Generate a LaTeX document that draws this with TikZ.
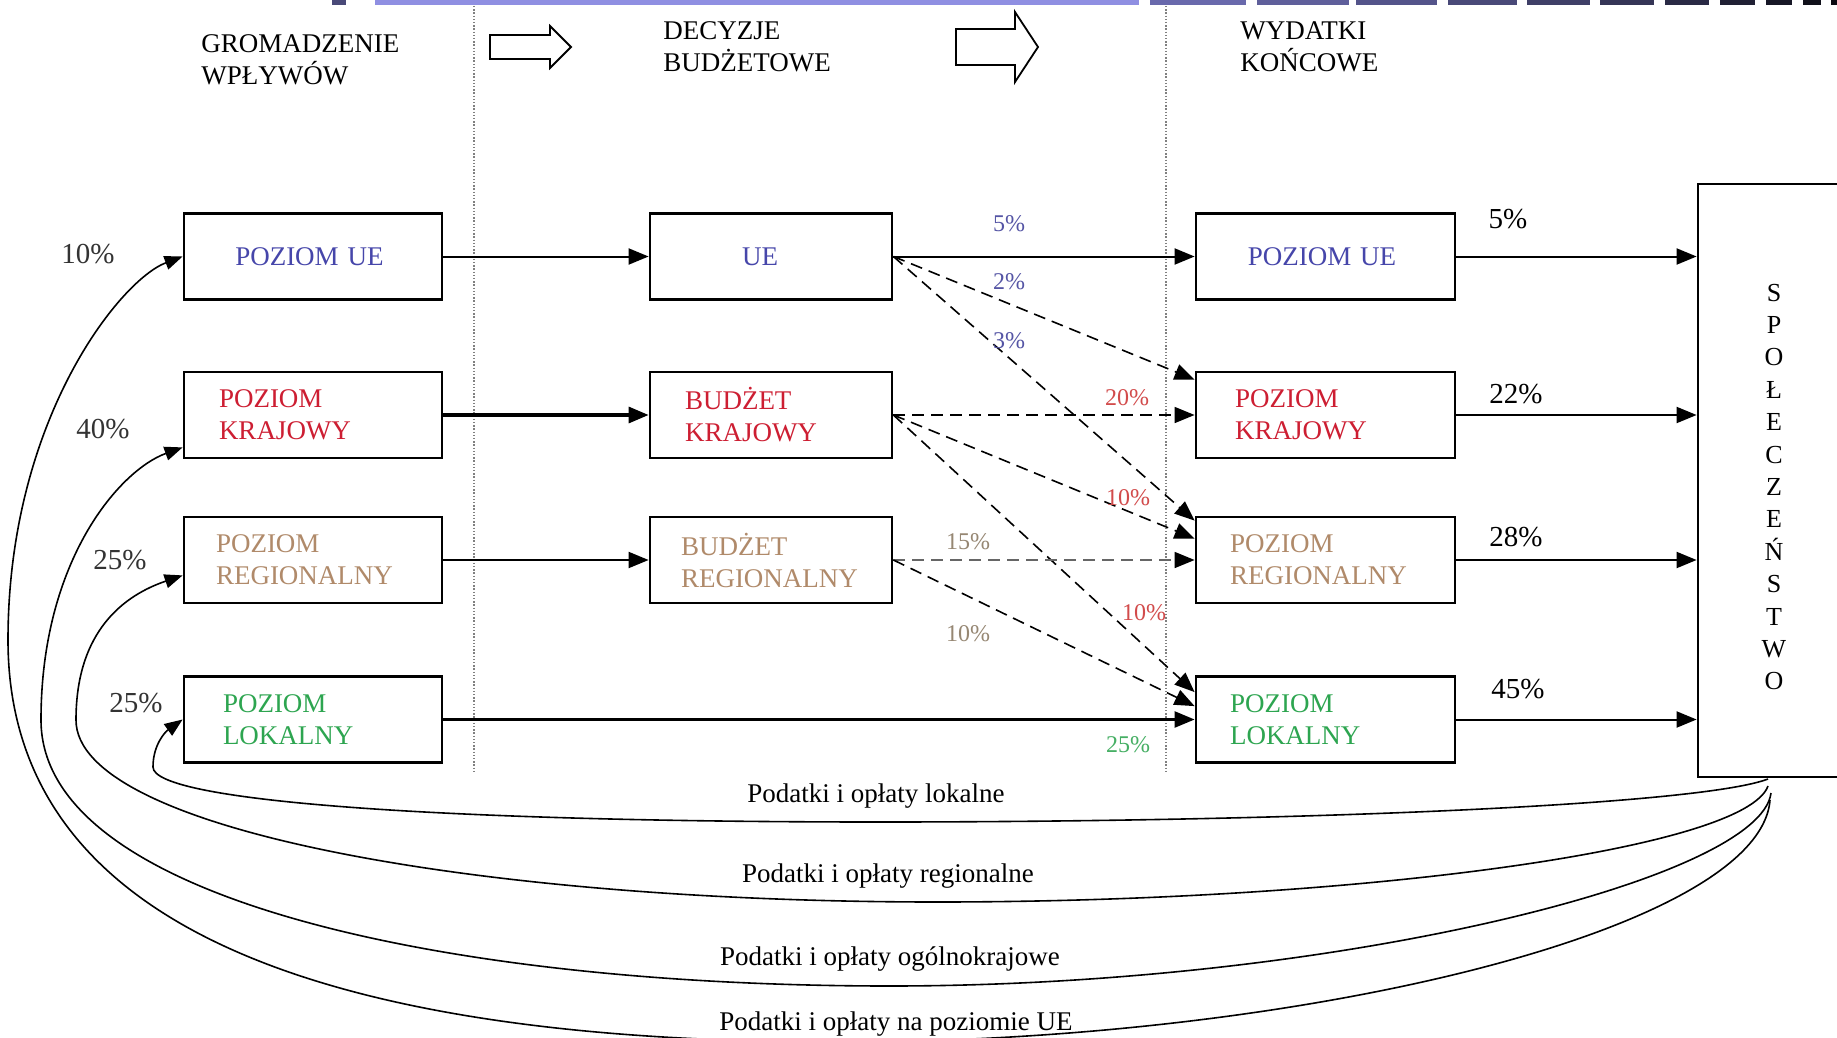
\documentclass[tikz,border=0pt]{standalone}
\usepackage{fontspec}
\setmainfont{Liberation Serif}
\usetikzlibrary{arrows.meta,calc}

\definecolor{euBlue}{RGB}{70,70,170}
\definecolor{krRed}{RGB}{205,30,50}
\definecolor{regBrown}{RGB}{176,138,106}
\definecolor{lokGreen}{RGB}{45,165,80}
\definecolor{barBlue}{RGB}{143,143,226}
\definecolor{segBlue}{RGB}{105,105,172}
\definecolor{pctBlue}{RGB}{85,85,165}
\definecolor{pctRed}{RGB}{210,75,75}
\definecolor{pctTan}{RGB}{150,135,115}
\definecolor{pctGreen}{RGB}{70,175,100}

\tikzset{
  poziom/.style={draw, line width=1.4pt, inner ysep=0pt, minimum height=43pt, align=left,
    font=\fontsize{13.5}{16}\selectfont},
  lewy/.style={poziom, inner xsep=16pt, text width=97pt},
  srodkowy/.style={poziom, inner xsep=15.5pt, text width=90pt},
  prawy/.style={poziom, inner xsep=17pt, text width=95.5pt},
  naglowek/.style={anchor=west, align=left, inner sep=0pt, font=\fontsize{13.5}{16}\selectfont},
  procent/.style={inner sep=0pt, font=\fontsize{14.5}{16}\selectfont},
  procentsr/.style={inner sep=0pt, font=\fontsize{12}{14}\selectfont},
  podatki/.style={inner sep=0pt, font=\fontsize{13.5}{16}\selectfont},
  strzalka/.style={-{Triangle[length=10pt,width=8pt]}, line width=1pt},
  przerywana/.style={strzalka, line width=0.8pt, dash pattern=on 6pt off 3.5pt},
  luk/.style={-{Triangle[length=9pt,width=7pt]}, line width=0.8pt},
  granica/.style={gray, line width=0.6pt, dash pattern=on 0.7pt off 0.9pt},
  pusta/.style={draw, line width=0.9pt, fill=white, line join=miter}
}

\begin{document}
\begin{tikzpicture}[x=0.5pt,y=-0.5pt]
  \useasboundingbox (0,0) rectangle (1837,1038);
  \clip (0,0) rectangle (1837,1038);
  \fill[white] (0,0) rectangle (1837,1038);

  % pasek u gory
  \fill[segBlue!70!black] (332,0) rectangle (346,5);
  \fill[barBlue] (375,0) rectangle (1139,5);
  \foreach \a/\b/\p in {1150/1246/100, 1257/1349/90, 1356/1437/80, 1448/1517/70,
      1527/1590/60, 1600/1654/50, 1665/1709/40, 1720/1755/30, 1766/1792/22,
      1803/1821/15, 1831/1837/10}
    \fill[segBlue!\p!black] (\a,0) rectangle (\b,5);

  % naglowki
  \node[naglowek] (gromadzenie) at (201,60) {GROMADZENIE\\WPŁYWÓW};
  \node[naglowek] (decyzje) at (663,47) {DECYZJE\\BUDŻETOWE};
  \node[naglowek] (wydatki) at (1240,47) {WYDATKI\\KOŃCOWE};
  \draw[pusta] (490,35) -- (550,35) -- (550,26) -- (571,47) -- (550,68) -- (550,59) -- (490,59) -- cycle;
  \draw[pusta] (956,29) -- (1015,29) -- (1015,12) -- (1038,47) -- (1015,82) -- (1015,65) -- (956,65) -- cycle;
  \draw[granica] (474,6) -- (474,773);
  \draw[granica] (1166,6) -- (1166,773);

  % gromadzenie wplywow
  \node[lewy, align=center, text=euBlue] (l1) at (313,256.5) {POZIOM UE\hspace*{3.5pt}};
  \node[lewy, text=krRed] (l2) at (313,415) {\hspace*{1.5pt}POZIOM\\\hspace*{1.5pt}KRAJOWY};
  \node[lewy, text=regBrown] (l3) at (313,560) {POZIOM\\REGIONALNY};
  \node[lewy, text=lokGreen] (l4) at (313,719.5) {\hspace*{3.5pt}POZIOM\\\hspace*{3.5pt}LOKALNY};

  % decyzje budzetowe
  \node[srodkowy, align=center, text=euBlue] (m1) at (771,256.5) {UE\hspace*{11pt}};
  \node[srodkowy, text=krRed] (m2) at (771,415) {\hspace*{2pt}BUDŻET\\\hspace*{2pt}KRAJOWY};
  \node[srodkowy, text=regBrown] (m3) at (771,560) {BUDŻET\\REGIONALNY};

  % wydatki koncowe
  \node[prawy, align=center, text=euBlue] (r1) at (1325.5,256.5) {POZIOM UE\hspace*{3.5pt}};
  \node[prawy, text=krRed] (r2) at (1325.5,415) {\hspace*{2.5pt}POZIOM\\\hspace*{2.5pt}KRAJOWY};
  \node[prawy, text=regBrown] (r3) at (1325.5,560) {POZIOM\\REGIONALNY};
  \node[prawy, text=lokGreen] (r4) at (1325.5,719.5) {POZIOM\\LOKALNY};

  % spoleczenstwo
  \node[draw, line width=1.4pt, minimum width=75pt, minimum height=296.5pt, inner sep=0pt] (spol) at (1773,480.5) {};
  \node[align=center, inner sep=0pt, font=\fontsize{13}{16.2}\selectfont] (spolnapis) at (1774,487)
    {S\\P\\O\\Ł\\E\\C\\Z\\E\\Ń\\S\\T\\W\\O};

  % przeplywy
  \draw[strzalka] (l1.east) -- (m1.west);
  \draw[strzalka, line width=1.6pt] (l2.east) -- (m2.west);
  \draw[strzalka] (l3.east) -- (m3.west);
  \draw[strzalka, line width=1.2pt] (l4.east) -- (r4.west);
  \draw[strzalka] (m1.east) -- (r1.west);
  \draw[przerywana] (m1.east) -- ($(r2.north west)+(0,9)$);
  \draw[przerywana] (m1.east) -- ($(r3.north west)+(0,5)$);
  \draw[przerywana] (m2.east) -- (r2.west);
  \draw[przerywana] (m2.east) -- ($(r3.north west)+(0,23)$);
  \draw[przerywana] (m2.east) -- ($(r4.north west)+(0,17)$);
  \draw[przerywana, black!60, -{Triangle[length=10pt,width=8pt,black]}] (m3.east) -- (r3.west);
  \draw[przerywana] (m3.east) -- ($(r4.north west)+(0,31)$);
  \foreach \r in {r1,r2,r3,r4}
    \draw[strzalka] (\r.east) -- (\r.east -| spol.west);

  % procenty
  \node[procent, text=black!80] (pl1) at (88,254) {10\%};
  \node[procent, text=black!80] (pl2) at (103,429) {40\%};
  \node[procent, text=black!80] (pl3) at (120,560) {25\%};
  \node[procent, text=black!80] (pl4) at (136,703) {25\%};
  \node[procentsr, text=pctBlue] (pm1) at (1009,224) {5\%};
  \node[procentsr, text=pctBlue] (pm2) at (1009,282) {2\%};
  \node[procentsr, text=pctBlue] (pm3) at (1009,341) {3\%};
  \node[procentsr, text=pctRed] (pm4) at (1127,398) {20\%};
  \node[procentsr, text=pctRed] (pm5) at (1128,498) {10\%};
  \node[procentsr, text=pctRed] (pm6) at (1144,613) {10\%};
  \node[procentsr, text=pctTan] (pm7) at (968,542) {15\%};
  \node[procentsr, text=pctTan] (pm8) at (968,634) {10\%};
  \node[procentsr, text=pctGreen] (pm9) at (1128,745) {25\%};
  \node[procent] (pr1) at (1508,219) {5\%};
  \node[procent] (pr2) at (1516,394) {22\%};
  \node[procent] (pr3) at (1516,537) {28\%};
  \node[procent] (pr4) at (1518,689) {45\%};

  % podatki i oplaty
  \coordinate (s1) at (1768,779);
  \coordinate (s2) at (1768,786);
  \coordinate (s3) at (1771,793);
  \coordinate (s4) at (1770,800);
  \draw[luk] (s1) .. controls (1700,805) and (1300,822) .. (879,822)
    .. controls (450,822) and (153,802) .. (153,767)
    .. controls (153,745) and (165,732) .. (l4.west);
  \draw[luk] (s2) .. controls (1745,850) and (1350,902) .. (937,902)
    .. controls (480,902) and (76,830) .. (76,720)
    .. controls (76,630) and (125,595) .. ($(l3.south west)+(0,-29)$);
  \draw[luk] (s3) .. controls (1760,880) and (1330,986) .. (890,986)
    .. controls (450,986) and (41,900) .. (41,720)
    .. controls (41,560) and (120,470) .. ($(l2.south west)+(0,-12)$);
  \draw[luk] (s4) .. controls (1760,930) and (1300,1042) .. (840,1042)
    .. controls (400,1042) and (8,960) .. (8,640)
    .. controls (8,420) and (120,280) .. (l1.west);
  \node[podatki] (lokalne) at (876,796) {Podatki i opłaty lokalne};
  \node[podatki] (regionalne) at (888,876) {Podatki i opłaty regionalne};
  \node[podatki] (krajowe) at (890,959) {Podatki i opłaty ogólnokrajowe};
  \node[podatki] (unijne) at (896,1024) {Podatki i opłaty na poziomie UE};
\end{tikzpicture}
\end{document}
